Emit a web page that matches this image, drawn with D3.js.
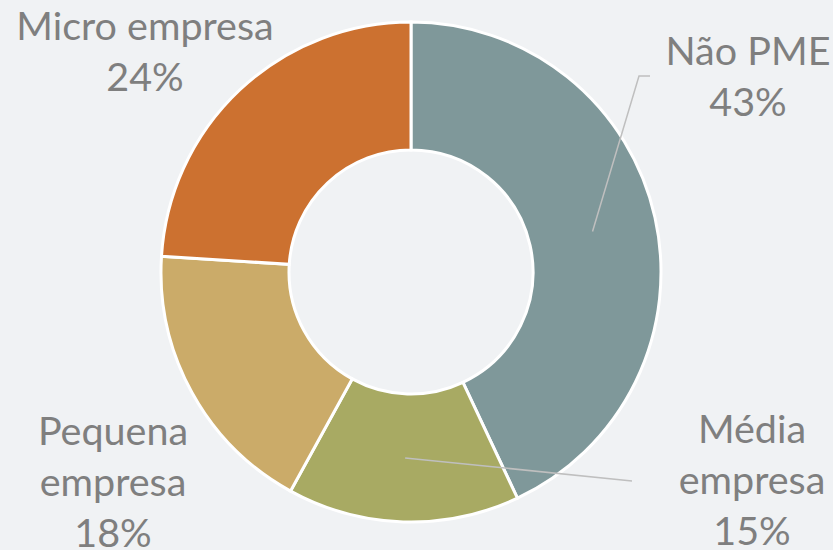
<!DOCTYPE html>
<html>
<head>
<meta charset="utf-8">
<script src="https://cdn.jsdelivr.net/npm/d3@7"></script>
<style>
  body { margin: 0; background: #f0f2f4; }
  svg { display: block; }
</style>
</head>
<body>
<svg id="chart"></svg>
<script>
const categories = ["Não PME", "Média empresa", "Pequena empresa", "Micro empresa"];
const values = [43, 15, 18, 24];
const colors = ["#7f989a", "#a8aa63", "#cbab69", "#cc7130"];

const width = 833, height = 550;
const cx = 411, cy = 272, outerR = 250, innerR = 122;

const svg = d3.select("#chart")
    .attr("width", width)
    .attr("height", height);

svg.append("rect")
    .attr("width", width)
    .attr("height", height)
    .attr("fill", "#f0f2f4");

const data = categories.map((c, i) => ({ name: c, value: values[i] }));

const pie = d3.pie().value(d => d.value).sort(null);
const arc = d3.arc().innerRadius(innerR).outerRadius(outerR);

const g = svg.append("g").attr("transform", `translate(${cx},${cy})`);

const arcs = pie(data);

g.selectAll(".arc")
    .data(arcs)
    .enter()
    .append("path")
    .attr("class", "arc")
    .attr("d", arc)
    .attr("fill", (d, i) => colors[i])
    .attr("stroke", "#ffffff")
    .attr("stroke-width", 3);

// label layout: text center and baseline of first line, relative to the page
const labelPos = [
    { x: 748, y: 65, lines: ["Não PME"], leader: [[650, 76], [639, 76]] },
    { x: 752, y: 443, lines: ["Média", "empresa"], leader: [[632, 481]] },
    { x: 113, y: 445, lines: ["Pequena", "empresa"], leader: null },
    { x: 145, y: 40, lines: ["Micro empresa"], leader: null }
];

// leader lines from the slice centroid
arcs.forEach((d, i) => {
    const lp = labelPos[i];
    if (!lp.leader) return;
    const c = arc.centroid(d);
    const pts = lp.leader.concat([[cx + c[0], cy + c[1]]]);
    svg.append("path")
        .attr("d", d3.line()(pts))
        .attr("fill", "none")
        .attr("stroke", "#bfbfbf")
        .attr("stroke-width", 1.5);
});

const lineH = 51;
arcs.forEach((d, i) => {
    const lp = labelPos[i];
    const pct = Math.round(d.data.value / d3.sum(values) * 100) + "%";
    const t = svg.append("text")
        .attr("text-anchor", "middle")
        .attr("font-family", "Lato, 'Open Sans', sans-serif")
        .attr("font-size", "39.5px")
        .attr("fill", "#7f7f7f");
    lp.lines.concat([pct]).forEach((s, k) => {
        t.append("tspan")
            .attr("x", lp.x)
            .attr("y", lp.y + k * lineH)
            .text(s);
    });
});
</script>
</body>
</html>
